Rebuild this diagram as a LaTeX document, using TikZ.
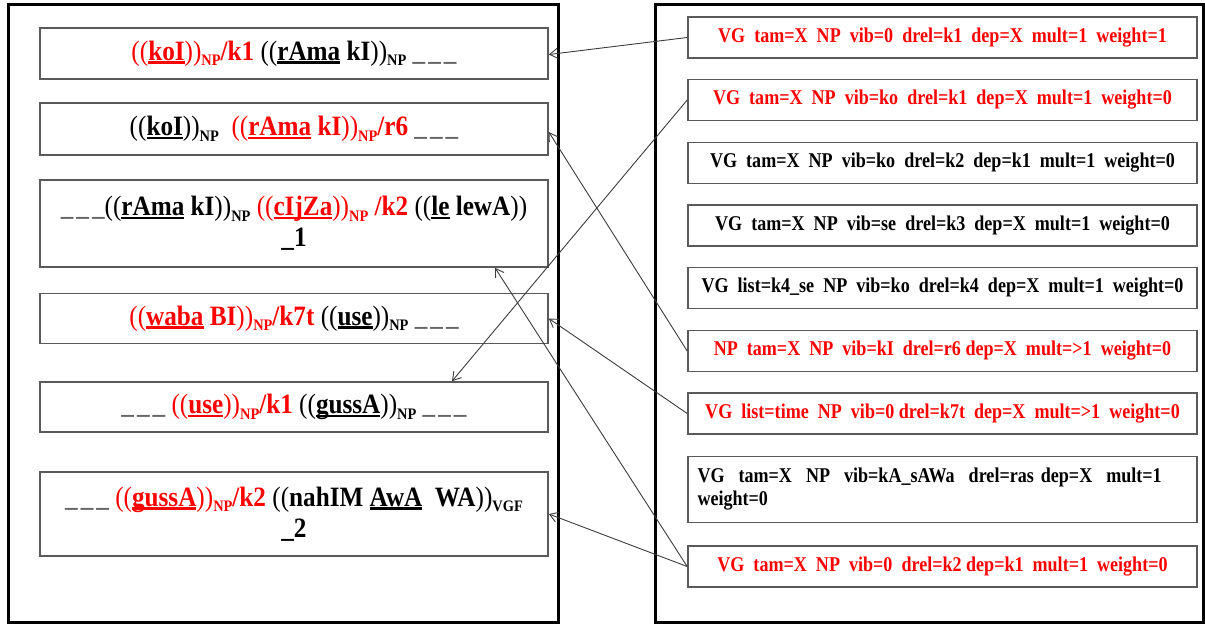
\documentclass[tikz,border=0pt]{standalone}
\usepackage{fontspec}
\setmainfont{Liberation Serif}
\newfontfamily\chunkfont[FakeStretch=0.9]{Liberation Serif}
\newfontfamily\framefont[FakeStretch=0.86]{Liberation Serif}
\usetikzlibrary{arrows.meta}
\definecolor{hl}{RGB}{255,0,0}
\definecolor{frame}{RGB}{90,90,90}
\definecolor{wire}{RGB}{60,60,60}
% thick underline under a word
\newcommand\ulin[1]{\setbox0\hbox{#1}\rlap{\raisebox{-3.5pt}{\rule{\wd0}{2.4pt}}}\box0{}}
% lowered label such as NP or VGF
\newcommand\sbs[1]{\raisebox{-5.5pt}{\fontsize{16}{16}\selectfont #1}}
% blank slots
\newcommand\blanks{{\color{black!60}\_\kern3pt\_\kern3pt\_}}
\newcommand\lp{{\mdseries((}}
\newcommand\rp{{\mdseries))}}
\tikzset{
  panel/.style={draw=black, line width=3pt},
  lbox/.style={draw=frame, line width=1.6pt, fill=white, inner sep=0pt,
    minimum width=508pt, align=center,
    font=\chunkfont\fontsize{28}{31}\selectfont\bfseries},
  rbox/.style={draw=frame, line width=1.6pt, fill=white, inner sep=0pt,
    minimum width=509pt, minimum height=41pt, align=center,
    font=\framefont\fontsize{21}{23}\selectfont\bfseries},
  conn/.style={draw=wire, line width=0.9pt, -{Straight Barb[length=8pt,width=10pt]}},
}
\begin{document}
\begin{tikzpicture}[x=1pt,y=-1pt]
\useasboundingbox (0,0) rectangle (1205,625);
% the two panels
\draw[panel] (8,4) rectangle (558,622);
\draw[panel] (655,4) rectangle (1203,622);

% chunked sentence views
\node[lbox, minimum height=51pt] (b1) at (294,53.5)
  {{\color{hl}\lp\ulin{koI}\rp\sbs{NP}/k1} \lp\ulin{rAma} kI\rp\sbs{NP} \blanks};
\node[lbox, minimum height=52pt] (b2) at (294,129)
  {\lp\ulin{koI}\rp\sbs{NP}\ \ {\color{hl}\lp\ulin{rAma} kI\rp\sbs{NP}/r6} \blanks};
\node[lbox, minimum height=87pt] (b3) at (294,223.5)
  {\blanks\lp\ulin{rAma} kI\rp\sbs{NP} {\color{hl}\lp\ulin{cIjZa}\rp\sbs{NP} /k2} \lp\ulin{le} lewA\rp\\ \_1};
\node[lbox, minimum height=50pt] (b4) at (294,318.5)
  {{\color{hl}\lp\ulin{waba} BI\rp\sbs{NP}/k7t} \lp\ulin{use}\rp\sbs{NP} \blanks};
\node[lbox, minimum height=50pt] (b5) at (294,407)
  {\blanks\ {\color{hl}\lp\ulin{use}\rp\sbs{NP}/k1} \lp\ulin{gussA}\rp\sbs{NP} \blanks};
\node[lbox, minimum height=84pt] (b6) at (294,514)
  {\blanks\ {\color{hl}\lp\ulin{gussA}\rp\sbs{NP}/k2} \lp nahIM \ulin{AwA}\ \ WA\rp\sbs{VGF}\\ \_2};

% demand frame entries
\node[rbox, text=hl] (r1) at (942.5,37.5)
  {VG\ \ tam=X\ \ NP\ \ vib=0\ \ drel=k1\ \ dep=X\ \ mult=1\ \ weight=1};
\node[rbox, text=hl] (r2) at (942.5,100)
  {VG\ \ tam=X\ \ NP\ \ vib=ko\ \ drel=k1\ \ dep=X\ \ mult=1\ \ weight=0};
\node[rbox] (r3) at (942.5,163)
  {VG\ \ tam=X\ \ NP\ \ vib=ko\ \ drel=k2\ \ dep=k1\ \ mult=1\ \ weight=0};
\node[rbox] (r4) at (942.5,225.5)
  {VG\ \ tam=X\ \ NP\ \ vib=se\ \ drel=k3\ \ dep=X\ \ mult=1\ \ weight=0};
\node[rbox] (r5) at (942.5,288)
  {VG\ \ list=k4\_se\ \ NP\ \ vib=ko\ \ drel=k4\ \ dep=X\ \ mult=1\ \ weight=0};
\node[rbox, text=hl] (r6) at (942.5,351)
  {NP\ \ tam=X\ \ NP\ \ vib=kI\ \ drel=r6 dep=X\ \ mult=>1\ \ weight=0};
\node[rbox, text=hl] (r7) at (942.5,413.5)
  {VG\ \ list=time\ \ NP\ \ vib=0 drel=k7t\ \ dep=X\ \ mult=>1\ \ weight=0};
\node[rbox, minimum height=66pt, align=left, text width=490pt] (r8) at (942.5,489.5)
  {VG\ \ tam=X\ \ NP\ \ vib=kA\_sAWa\ \ drel=ras dep=X\ \ mult=1\\ weight=0};
\node[rbox, text=hl] (r9) at (942.5,566.5)
  {VG\ \ tam=X\ \ NP\ \ vib=0\ \ drel=k2 dep=k1\ \ mult=1\ \ weight=0};

% links from frame entries to chunks
\draw[conn] (r1.west) -- ([yshift=-1pt]b1.east);
\draw[conn] (r2.west) -- ([xshift=158pt]b5.north);
\draw[conn] (r6.west) -- ([yshift=-3pt]b2.east);
\draw[conn] (r7.west) -- (b4.east);
\draw[conn] (r9.west) -- ([xshift=201pt]b3.south);
\draw[conn] (r9.west) -- (b6.east);
\end{tikzpicture}
\end{document}
